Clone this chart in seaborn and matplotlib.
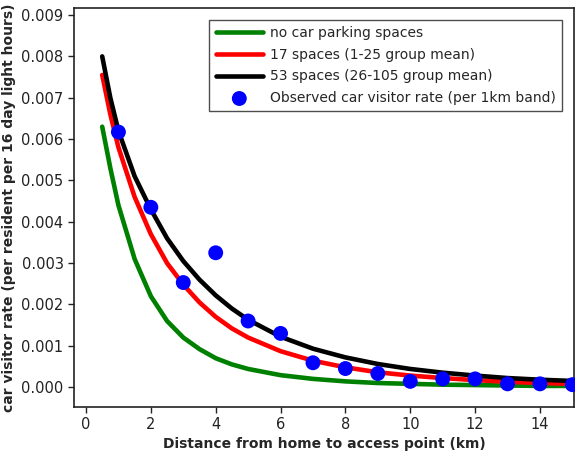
import numpy as np
import pandas as pd
import matplotlib
matplotlib.use("Agg")
import matplotlib.pyplot as plt
import seaborn as sns

# Model curves
curve_x = [0.5, 0.75, 1, 1.5, 2, 2.5, 3, 3.5, 4, 4.5, 5, 6, 7, 8, 9, 10, 11, 12, 13, 14, 15]
no_spaces = [0.0063, 0.0053, 0.0044, 0.0031, 0.0022, 0.0016, 0.0012, 0.00092, 0.0007,
             0.00055, 0.00044, 0.00029, 0.0002, 0.00014, 0.0001, 0.00008, 0.00006,
             0.00005, 0.00004, 0.00003, 0.00003]
spaces_17 = [0.00755, 0.0066, 0.0058, 0.0046, 0.0037, 0.0030, 0.00248, 0.00205, 0.0017,
             0.00142, 0.0012, 0.00087, 0.00064, 0.00048, 0.00036, 0.00028, 0.00022,
             0.00017, 0.00013, 0.0001, 0.00008]
spaces_53 = [0.0080, 0.0070, 0.0062, 0.0051, 0.0043, 0.0036, 0.00305, 0.0026, 0.00222,
             0.0019, 0.00163, 0.00122, 0.00093, 0.00072, 0.00056, 0.00044, 0.00035,
             0.00028, 0.00022, 0.00018, 0.00015]

# Observed car visitor rate per 1 km band
obs_x = [1, 2, 3, 4, 5, 6, 7, 8, 9, 10, 11, 12, 13, 14, 15]
obs_y = [0.00617, 0.00435, 0.00253, 0.00325, 0.0016, 0.0013, 0.00059, 0.00045,
         0.00033, 0.00014, 0.0002, 0.0002, 0.00008, 0.00008, 0.00006]

series_names = ["no car parking spaces", "17 spaces (1-25 group mean)",
                "53 spaces (26-105 group mean)"]
obs_name = "Observed car visitor rate (per 1km band)"
colors = ["#008000", "#ff0000", "#000000"]

n = len(curve_x)
df = pd.DataFrame({
    "x": curve_x * 3,
    "y": no_spaces + spaces_17 + spaces_53,
    "series": [series_names[0]] * n + [series_names[1]] * n + [series_names[2]] * n,
})
obs = pd.DataFrame({"x": obs_x, "y": obs_y})

sns.set_style("ticks")
plt.rcParams["font.family"] = ["DejaVu Sans"]

fig = plt.figure(figsize=(5.75, 4.66), dpi=100)
# axes: left 74px, right 574px, top 8px, bottom 407px
ax = fig.add_axes([74 / 575, 1 - 407 / 466, 500 / 575, 399 / 466])

sns.lineplot(data=df, x="x", y="y", hue="series", palette=colors,
             hue_order=series_names, linewidth=3.3, ax=ax)
sns.scatterplot(data=obs, x="x", y="y", color="#0000ff", s=115, edgecolor="none",
                label=obs_name, ax=ax, zorder=5, clip_on=False)

ax.set_xlim(-0.37, 15.05)
ax.set_ylim(-0.00048, 0.00917)
ax.set_xticks(np.arange(0, 15, 2))
ax.set_yticks(np.arange(0, 0.0091, 0.001))
ax.yaxis.set_major_formatter(matplotlib.ticker.FormatStrFormatter("%.3f"))
ax.tick_params(labelsize=10.5, length=4, width=1, colors="#222222", labelcolor="#222222")
for s in ax.spines.values():
    s.set_linewidth(1.2)
    s.set_color("#222222")

ax.set_xlabel("Distance from home to access point (km)", fontsize=10, fontweight="bold",
              labelpad=3)
ax.set_ylabel("car visitor rate (per resident per 16 day light hours)", fontsize=10,
              fontweight="bold", labelpad=4)

leg = ax.legend(loc="upper right", bbox_to_anchor=(0.976, 0.97), borderaxespad=0,
                fontsize=10, frameon=True, fancybox=False, edgecolor="#222222",
                handlelength=3.4, handletextpad=0.5, borderpad=0.45, labelspacing=0.55)
leg.get_frame().set_linewidth(1.0)

fig.savefig("out.png", dpi=100)
